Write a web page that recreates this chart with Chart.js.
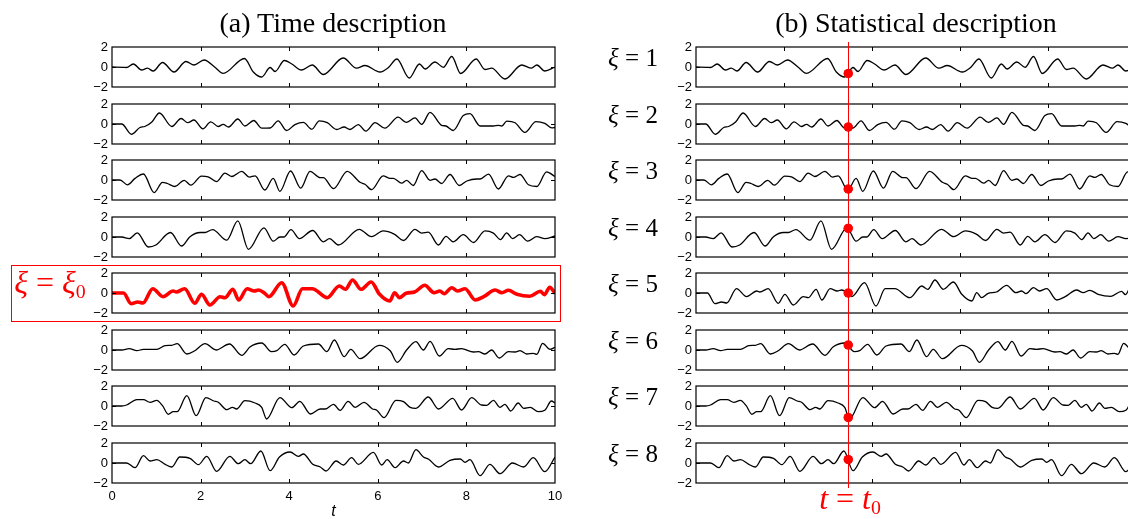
<!DOCTYPE html>
<html>
<head>
<meta charset="utf-8">
<script src="https://cdn.jsdelivr.net/npm/chart.js@4.4.1/dist/chart.umd.min.js"></script>
<style>
  html, body { margin: 0; padding: 0; background: #fff; overflow: hidden; }
  #fig { position: relative; width: 1128px; height: 519px; overflow: hidden; background: #fff; }
  #fig canvas { position: absolute; }
  .txt { position: absolute; white-space: nowrap; font-family: "Liberation Serif", "DejaVu Serif", serif; color: #000; transform: translate(-50%, -50%); line-height: 1; }
  .txt i { font-style: italic; }
  .txt sub { font-size: 62%; vertical-align: -0.25em; }
  .red { color: #ff0000; }
  #hlbox { position: absolute; border: 1.5px solid #ff0000; box-sizing: border-box; }
</style>
</head>
<body>
<div id="fig"></div>
<script>
// Eight realisations x(t, ξ) of the random process, sampled at their turning points
const t1 = [0,0.26,0.33,0.48,0.67,0.8,0.93,1.14,1.40,1.67,1.85,2.08,2.33,2.51,2.99,3.19,3.38,3.57,3.68,3.89,4.06,4.28,4.52,4.77,5.22,5.52,5.71,6.05,6.24,6.43,6.71,6.94,7.07,7.29,7.48,7.67,7.87,8.22,8.42,8.57,8.87,9.25,9.47,9.59,9.77,10];
const v1 = [0,-0.03,-0.05,0.3,-0.3,-0.12,-0.4,0.45,-0.5,0.55,0.2,0.7,-0.05,-0.63,0.85,-0.5,-1.0,-0.05,-0.45,0.65,0.3,-0.3,0.2,-0.75,0.9,-0.12,0.15,-0.5,-0.05,0.8,-1.1,0.3,-0.2,0.5,-0.03,1.05,-0.65,0.8,-0.25,-0.12,-1.2,0.2,-0.12,0.2,-0.4,0];

const t2 = [0,0.22,0.44,0.63,0.74,0.9,1.07,1.35,1.56,1.71,1.85,2.05,2.23,2.4,2.51,2.63,2.84,3.0,3.2,3.38,3.57,3.75,3.94,4.13,4.32,4.51,4.68,4.86,5.07,5.24,5.37,5.56,5.73,5.94,6.16,6.46,6.64,6.84,6.99,7.18,7.44,7.54,7.7,7.93,8.08,8.31,8.61,8.72,8.8,8.91,9.1,9.32,9.57,9.77,9.93,10];
const v2 = [0,0,-1.03,-0.35,-0.25,0.2,1.1,-0.25,0.55,0.13,0.4,-0.48,0.22,-0.25,-0.03,-0.3,0.5,-0.2,0.35,-0.42,-0.4,0.32,-0.65,-0.06,0.16,-0.52,0.32,0.13,-0.55,-0.3,-0.55,-0.06,-0.71,0.13,-0.42,0.68,0.16,0.61,-0.03,1.16,-0.13,-0.2,-0.65,0.84,1.03,-0.2,-0.2,-0.13,-0.2,0.29,0.13,-0.84,0.23,0.06,-0.39,-0.35];

const t3 = [0,0.18,0.35,0.52,0.71,0.95,1.14,1.25,1.42,1.63,1.78,2.02,2.17,2.36,2.55,2.7,2.93,3.1,3.23,3.45,3.64,3.79,4.03,4.26,4.47,4.7,4.77,5.0,5.31,5.6,5.71,5.86,6.12,6.28,6.35,6.54,6.65,6.8,6.99,7.18,7.29,7.44,7.63,7.84,8.01,8.23,8.31,8.5,8.72,8.95,9.06,9.21,9.4,9.59,9.81,10];
const v3 = [0,0,-0.48,0.16,0.6,-1.26,-0.23,-0.35,-0.65,-0.03,-0.52,0.39,0.32,-0.16,0.68,0.35,0.87,0.29,0.42,-1.0,0.16,-1.13,0.9,-0.81,0.87,0.23,0.23,-0.87,0.87,-0.23,-0.42,-0.97,0.42,0.16,0.16,-0.32,-0.03,-0.55,0.94,-0.03,0.1,-0.35,0.55,-0.55,-0.1,0.1,0.1,0.58,-0.9,0.42,0.26,0.55,-0.48,-0.65,0.81,0.35];

const t4 = [0,0.22,0.39,0.57,0.82,0.99,1.32,1.57,1.76,1.99,2.1,2.27,2.59,2.84,3.08,3.43,3.64,3.79,3.88,4.04,4.23,4.53,4.77,4.91,5.11,5.58,5.86,6.12,6.37,6.58,6.84,6.99,7.14,7.37,7.54,7.7,7.93,8.16,8.42,8.61,8.77,8.91,9.04,9.2,9.38,9.59,9.77,10];
const v4 = [0,0,-0.16,0.42,-1.0,-0.8,0.45,-0.9,0.03,0.45,0.45,0.74,-0.32,1.61,-1.23,0.92,-0.42,0,0,0.74,-0.16,0.65,-0.48,-0.16,-0.8,0.77,0.03,0.61,0.29,-0.35,0.77,0.39,0.48,-0.8,0.06,-0.48,0.23,-0.55,0.61,0.39,-0.26,0.42,-0.16,0.23,-0.42,0.03,-0.16,0.1];

const t5 = [0,0.26,0.43,0.58,0.7,0.92,1.15,1.38,1.45,1.64,1.87,2.02,2.21,2.44,2.55,2.73,2.86,3.05,3.21,3.31,3.44,3.54,3.83,4.09,4.3,4.52,4.86,5.13,5.27,5.43,5.62,5.85,6.04,6.27,6.38,6.49,6.64,6.83,7.06,7.27,7.4,7.5,7.67,7.8,7.97,8.2,8.39,8.65,8.8,8.95,9.14,9.43,9.67,9.76,9.88,10];
const v5 = [0,0,-1.07,-0.9,-1.0,0.43,-0.37,0.2,0.1,0.43,-1.03,-0.13,-1.2,-0.37,-0.47,0.37,-0.7,0.43,0.2,0.3,0,-0.37,1.03,-1.3,0.43,0.43,-0.47,0.7,0.37,1.3,0.37,1.1,-0.13,-0.8,0.03,-0.47,-0.03,0.1,0.77,0.03,0.2,-0.07,0.53,0.2,0.43,-0.7,-0.37,0.3,0.03,0.27,-0.13,-0.33,0.17,-0.17,0.57,-0.03];

const t6 = [0,0.22,0.39,0.56,0.71,1.01,1.2,1.35,1.47,1.69,1.87,2.1,2.35,2.65,2.93,3.12,3.38,3.6,3.72,3.9,4.11,4.32,4.66,4.85,5.02,5.24,5.39,5.6,6.03,6.28,6.44,6.65,6.86,7.03,7.18,7.39,7.59,7.74,7.89,8.16,8.27,8.42,8.57,8.74,8.95,9.1,9.21,9.36,9.51,9.59,9.72,9.89,10];
const v6 = [0,0,0.13,-0.07,0.07,0.07,0.43,0.47,0.63,-0.4,-0.07,0.63,0,0.6,-0.53,0.33,0.7,-0.17,-0.07,0.57,-0.5,0.4,0.6,-0.17,1.0,-0.67,0.07,-0.87,0.47,-0.07,-1.23,0,0.83,0,0.87,-0.6,0.13,0.07,0.13,-0.2,-0.17,-0.4,0,-0.8,-0.17,-0.2,-0.07,-0.4,-0.33,-0.43,0.67,0.07,0.27];

const t7 = [0,0.22,0.33,0.56,0.71,0.86,1.01,1.14,1.27,1.38,1.47,1.69,1.9,2.12,2.3,2.4,2.59,2.72,2.81,3.0,3.23,3.38,3.49,3.79,4.06,4.24,4.48,4.7,4.81,5.0,5.15,5.33,5.49,5.69,5.88,5.97,6.14,6.41,6.58,6.73,6.86,7.14,7.37,7.69,7.89,8.12,8.34,8.46,8.61,8.76,8.87,9.0,9.17,9.29,9.44,9.62,9.77,9.92,10];
const v7 = [0,0,0.1,0.63,0.63,0.37,0.57,0.03,-0.83,-0.57,-0.57,1.03,-0.97,0.83,0.5,0.37,-0.37,-0.13,-0.3,0.53,0.3,-0.13,-1.3,0.83,-0.17,0.47,-0.8,-0.3,-0.3,0.17,-0.43,0.47,-0.13,0.37,-0.3,-0.4,-1.17,0.57,0.43,-0.13,-0.23,0.9,-0.3,0.77,-0.4,0.83,0.1,0.07,0.57,-0.13,0.17,-0.5,0.3,-0.23,-0.13,-0.57,-0.43,0.5,0.3];

const t8 = [0,0.33,0.52,0.71,0.86,1.01,1.2,1.35,1.53,1.76,1.95,2.14,2.36,2.66,2.85,3.0,3.13,3.36,3.57,3.78,4.02,4.21,4.32,4.53,4.7,4.83,5.06,5.22,5.41,5.56,5.9,6.09,6.21,6.39,6.58,6.69,6.86,7.03,7.14,7.37,7.63,7.86,7.97,8.08,8.31,8.53,8.76,9.04,9.29,9.51,9.77,10];
const v8 = [0,0,-0.47,0.73,0.2,0.33,-0.13,-0.4,0.6,0.47,-0.17,0.67,-0.83,0.67,-0.07,0.33,-0.07,1.2,-0.77,0.6,1.1,0.67,0.9,-0.13,-0.4,-0.8,0.2,-0.2,0.53,-0.13,1.07,-0.2,0.33,-0.47,0.2,0,1.33,0.6,0.4,-0.4,0.27,0.4,0.07,0.33,-1.27,-0.13,-1.07,0,-0.4,0.53,-0.87,0.6];

// Sampling instant t0 and the value of each realisation there
const t0 = 3.46;
const valuesAtT0 = [-0.65, -0.3, -0.9, 0.87, 0, 0.5, -1.15, 0.35];

// Tick and label text
const xTickLabels = ['0', '2', '4', '6', '8', '10'];
const yTickLabels = ['\u22122', '0', '2'];
const realisationLabels = ['1', '2', '3', '4', '5', '6', '7', '8'];
const highlightedRow = 4; // the realisation ξ = ξ0 in panel (a)

const times = [t1, t2, t3, t4, t5, t6, t7, t8];
const values = [v1, v2, v3, v4, v5, v6, v7, v8];

// ---- layout ----
const ROW_TOP = 47, ROW_STEP = 56.5, ROW_H = 40;
const PANEL_A = { left: 112, width: 443 };
const PANEL_B = { left: 696, width: 440 };
const PAD_L = 34, PAD_T = 14, PAD_R = 18, PAD_B = 14, XAXIS_H = 38;
const TICK_FONT = { family: '"Liberation Sans", Arial, sans-serif', size: 13, lineHeight: 1.1 };
const fig = document.getElementById('fig');

// Box around the axes with short inward ticks, MATLAB style
const framePlugin = {
  id: 'frame',
  afterDraw(chart) {
    const { ctx, chartArea: a, scales } = chart;
    ctx.save();
    ctx.strokeStyle = '#000';
    ctx.lineWidth = 1.2;
    ctx.strokeRect(a.left, a.top, a.right - a.left, a.bottom - a.top);
    ctx.lineWidth = 1;
    ctx.beginPath();
    scales.x.ticks.forEach(tk => {
      if (tk.value <= scales.x.min || tk.value >= scales.x.max) return;
      const px = Math.round(scales.x.getPixelForValue(tk.value)) + 0.5;
      ctx.moveTo(px, a.top); ctx.lineTo(px, a.top + 4);
      ctx.moveTo(px, a.bottom); ctx.lineTo(px, a.bottom - 4);
    });
    scales.y.ticks.forEach(tk => {
      if (tk.value <= scales.y.min || tk.value >= scales.y.max) return;
      const py = Math.round(scales.y.getPixelForValue(tk.value)) + 0.5;
      ctx.moveTo(a.left, py); ctx.lineTo(a.left + 4, py);
      ctx.moveTo(a.right, py); ctx.lineTo(a.right - 4, py);
    });
    ctx.stroke();
    ctx.restore();
  }
};

function makeSubplot(panel, row, opts) {
  const top = Math.round(ROW_TOP + row * ROW_STEP);
  const cv = document.createElement('canvas');
  const w = PAD_L + panel.width + PAD_R;
  const h = PAD_T + ROW_H + (opts.showX ? XAXIS_H : PAD_B);
  cv.width = w; cv.height = h;
  cv.style.width = w + 'px'; cv.style.height = h + 'px';
  cv.style.left = (panel.left - PAD_L) + 'px';
  cv.style.top = (top - PAD_T) + 'px';
  fig.appendChild(cv);

  const pts = times[row].map((t, i) => ({ x: t, y: values[row][i] }));
  const datasets = [{
    data: pts,
    borderColor: opts.color,
    borderWidth: opts.lineWidth,
    pointRadius: 0,
    cubicInterpolationMode: 'monotone',
    fill: false
  }];
  if (opts.markT0) {
    datasets.push({
      type: 'scatter',
      data: [{ x: t0, y: valuesAtT0[row] }],
      pointRadius: 4.6,
      pointBackgroundColor: '#ff0000',
      pointBorderWidth: 0
    });
  }

  const chart = new Chart(cv, {
    type: 'line',
    data: { datasets },
    options: {
      responsive: false,
      animation: false,
      devicePixelRatio: 1,
      events: [],
      layout: { padding: { left: 0, top: PAD_T, right: PAD_R, bottom: opts.showX ? 0 : PAD_B } },
      plugins: { legend: { display: false }, tooltip: { enabled: false } },
      scales: {
        x: {
          type: 'linear', min: 0, max: 10,
          grid: { display: false, drawTicks: false },
          border: { display: false },
          ticks: {
            display: !!opts.showX, stepSize: 2, autoSkip: false, maxRotation: 0,
            padding: 6, font: TICK_FONT, color: '#000',
            callback: (v, i) => xTickLabels[i]
          },
          title: {
            display: !!opts.showX, text: 't', padding: { top: 0, bottom: 0 },
            font: { family: '"Liberation Sans", Arial, sans-serif', size: 16, style: 'italic' }, color: '#000'
          },
          afterFit: s => { s.height = opts.showX ? XAXIS_H : 0; }
        },
        y: {
          type: 'linear', min: -2, max: 2,
          grid: { display: false, drawTicks: false },
          border: { display: false },
          ticks: { stepSize: 2, autoSkip: false, padding: 4, font: TICK_FONT, color: '#000', callback: (v, i) => yTickLabels[i] },
          afterFit: s => { s.width = PAD_L; }
        }
      }
    },
    plugins: [framePlugin]
  });
  return { chart, left: panel.left - PAD_L, top: top - PAD_T };
}

// Panel (a): time description
for (let r = 0; r < 8; r++) {
  const hl = r === highlightedRow;
  makeSubplot(PANEL_A, r, {
    color: hl ? '#ff0000' : '#000',
    lineWidth: hl ? 3.6 : 1.3,
    showX: r === 7
  });
}

// Panel (b): statistical description, sampled at t = t0
const bCharts = [];
for (let r = 0; r < 8; r++) {
  bCharts.push(makeSubplot(PANEL_B, r, { color: '#000', lineWidth: 1.3, markT0: true }));
}

// Vertical line at t0 spanning all of panel (b)
const ov = document.createElement('canvas');
ov.width = 1128; ov.height = 519;
ov.style.left = '0px'; ov.style.top = '0px';
ov.style.pointerEvents = 'none';
fig.appendChild(ov);
{
  const ref = bCharts[0];
  const x = Math.round(ref.left + ref.chart.scales.x.getPixelForValue(t0)) + 0.5;
  const c = ov.getContext('2d');
  c.strokeStyle = '#ff0000';
  c.lineWidth = 1;
  c.beginPath();
  c.moveTo(x, 42);
  c.lineTo(x, 488);
  c.stroke();
  // redraw the markers above the line
  bCharts.forEach((b, r) => {
    const px = b.left + b.chart.scales.x.getPixelForValue(t0);
    const py = b.top + b.chart.scales.y.getPixelForValue(valuesAtT0[r]);
    c.fillStyle = '#ff0000';
    c.beginPath();
    c.arc(px, py, 4.6, 0, Math.PI * 2);
    c.fill();
  });
}

// Highlight box around ξ = ξ0 in panel (a)
const box = document.createElement('div');
box.id = 'hlbox';
Object.assign(box.style, { left: '11px', top: '265px', width: '550px', height: '57px' });
fig.appendChild(box);

// Text
function addText(html, cx, cy, size, cls) {
  const d = document.createElement('div');
  d.className = 'txt' + (cls ? ' ' + cls : '');
  d.innerHTML = html;
  d.style.left = cx + 'px';
  d.style.top = cy + 'px';
  d.style.fontSize = size + 'px';
  fig.appendChild(d);
}
addText('(a) Time description', 333, 23, 28);
addText('(b) Statistical description', 916, 23, 28);
realisationLabels.forEach((k, r) => {
  addText('<i>\u03be</i> = ' + k, 633, Math.round(ROW_TOP + r * ROW_STEP) + 10, 25);
});
addText('<i>\u03be</i> = <i>\u03be</i><sub>0</sub>', 50, 284, 32, 'red');
addText('<i>t</i> = <i>t</i><sub>0</sub>', 850, 500, 32, 'red');
</script>
</body>
</html>
